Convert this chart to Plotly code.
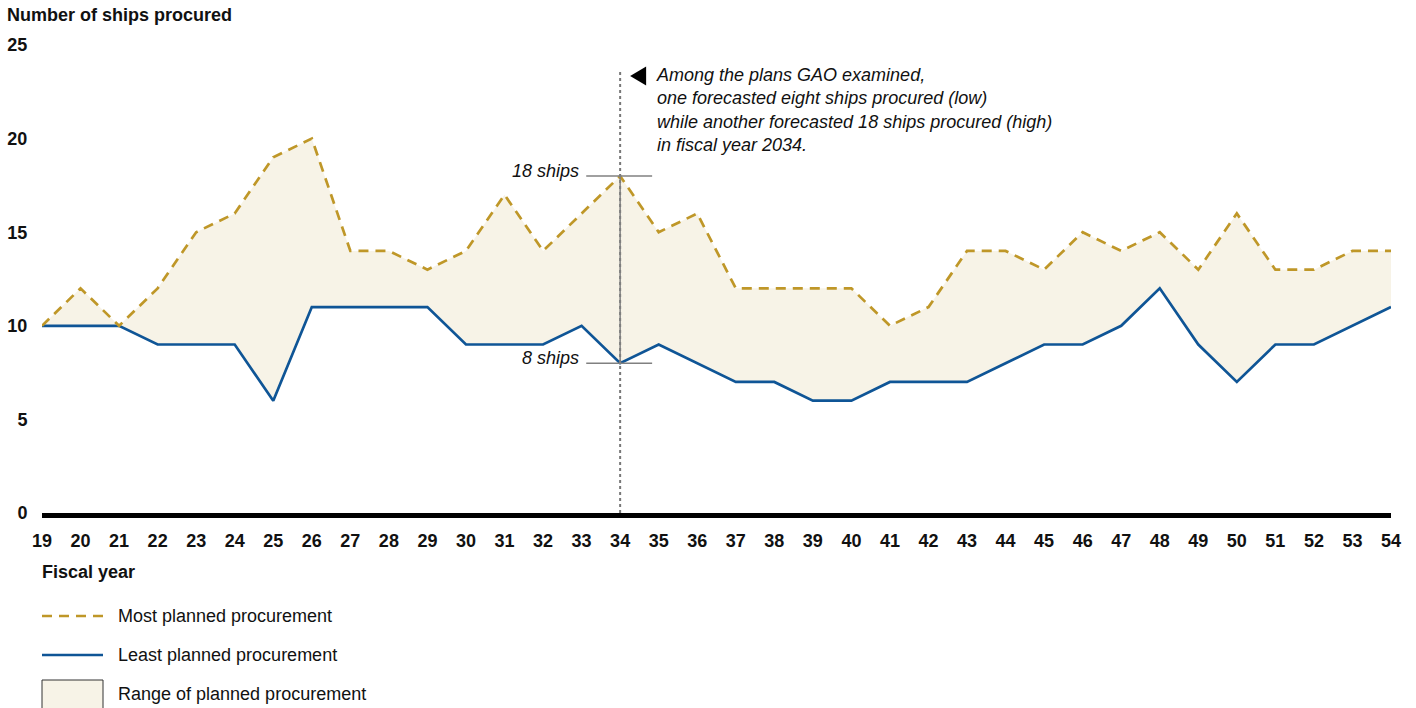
import plotly.graph_objects as go

years = list(range(19, 55))
year_labels = [str(y) for y in years]
most_planned = [10, 12, 10, 12, 15, 16, 19, 20, 14, 14, 13, 14, 17, 14, 16, 18, 15, 16,
                12, 12, 12, 12, 10, 11, 14, 14, 13, 15, 14, 15, 13, 16, 13, 13, 14, 14]
least_planned = [10, 10, 10, 9, 9, 9, 6, 11, 11, 11, 11, 9, 9, 9, 10, 8, 9, 8,
                 7, 7, 6, 6, 7, 7, 7, 8, 9, 9, 10, 12, 9, 7, 9, 9, 10, 11]
y_ticks = [0, 5, 10, 15, 20, 25]
highlight_year = 34
low_value = 8
high_value = 18

GOLD = "#BF9728"
BLUE = "#0F5596"
FILL = "#F7F3E7"
FONT = "Liberation Sans, Arial, sans-serif"
DASH = "10px,7px"

fig = go.Figure()
fig.add_trace(go.Scatter(x=years, y=least_planned, mode="lines", line=dict(width=0, color=FILL),
                         showlegend=False, hoverinfo="skip"))
fig.add_trace(go.Scatter(x=years, y=most_planned, mode="lines", line=dict(width=0, color=FILL),
                         fill="tonexty", fillcolor=FILL, showlegend=False, hoverinfo="skip"))
fig.add_trace(go.Scatter(x=years, y=least_planned, mode="lines", line=dict(width=2.7, color=BLUE),
                         showlegend=False, name="Least planned procurement"))
fig.add_trace(go.Scatter(x=years, y=most_planned, mode="lines",
                         line=dict(width=2.7, color=GOLD, dash=DASH),
                         showlegend=False, name="Most planned procurement"))

shapes = []
annotations = []

# vertical dotted reference line
shapes.append(dict(type="line", xref="x", yref="y", x0=highlight_year, x1=highlight_year,
                   y0=0, y1=23.66, line=dict(color="#777777", width=2, dash="dot"), layer="above"))
# range bar
shapes.append(dict(type="line", xref="x", yref="y", x0=highlight_year, x1=highlight_year,
                   y0=low_value, y1=high_value, line=dict(color="#808080", width=1.5), layer="above"))
for v in (low_value, high_value):
    shapes.append(dict(type="line", xref="x", yref="y", x0=highlight_year - 0.88,
                       x1=highlight_year + 0.83, y0=v, y1=v,
                       line=dict(color="#808080", width=1.5), layer="above"))
    annotations.append(dict(x=highlight_year - 0.88, y=v, xref="x", yref="y", xanchor="right",
                            yanchor="middle", xshift=-5, yshift=5, showarrow=False,
                            text=f"<i>{v} ships</i>", font=dict(size=18, color="#111111", family=FONT)))
# triangle pointer
shapes.append(dict(type="path", xref="x", yref="y", xsizemode="pixel", ysizemode="pixel",
                   xanchor=highlight_year, yanchor=23.34,
                   path="M 10,0 L 26,9.5 L 26,-9.5 Z", fillcolor="#000000",
                   line=dict(width=0), layer="above"))
annotations.append(dict(x=highlight_year, y=23.34, xref="x", yref="y", xanchor="left", yanchor="top",
                        xshift=34, yshift=13, showarrow=False, align="left",
                        text="<i>Among the plans GAO examined,<br>one forecasted eight ships procured (low)"
                             "<br>while another forecasted 18 ships procured (high)<br>in fiscal year 2034.</i>",
                        font=dict(size=18, color="#111111", family=FONT)))

# titles
annotations.append(dict(x=-0.0259, y=1.064, xref="paper", yref="paper", xanchor="left", yanchor="middle",
                        xshift=-2, showarrow=False, text="<b>Number of ships procured</b>",
                        font=dict(size=18, color="#111111", family=FONT)))
annotations.append(dict(x=0, y=(513 - 572) / 468, xref="paper", yref="paper", xanchor="left",
                        yanchor="middle", xshift=-2, showarrow=False, text="<b>Fiscal year</b>",
                        font=dict(size=18, color="#111111", family=FONT)))


def py(ypx):
    return (513 - ypx) / 468


x_end = (103 - 42) / 1349
x_text = (118 - 42) / 1349
shapes.append(dict(type="line", xref="paper", yref="paper", x0=0, x1=x_end, y0=py(616), y1=py(616),
                   line=dict(color=GOLD, width=2.7, dash=DASH)))
shapes.append(dict(type="line", xref="paper", yref="paper", x0=0, x1=x_end, y0=py(655), y1=py(655),
                   line=dict(color=BLUE, width=2.7)))
shapes.append(dict(type="rect", xref="paper", yref="paper", x0=0, x1=x_end, y0=py(680), y1=py(720),
                   fillcolor=FILL, line=dict(color="#333333", width=1)))
for label, ypx in (("Most planned procurement", 616), ("Least planned procurement", 655),
                   ("Range of planned procurement", 694)):
    annotations.append(dict(x=x_text, y=py(ypx), xref="paper", yref="paper", xanchor="left",
                            yanchor="middle", xshift=-2, showarrow=False, text=label,
                            font=dict(size=18, color="#111111", family=FONT)))

fig.update_layout(
    width=1416, height=708,
    margin=dict(l=42, r=25, t=45, b=195, autoexpand=False),
    paper_bgcolor="white", plot_bgcolor="white",
    font=dict(family=FONT, color="#111111"),
    shapes=shapes, annotations=annotations,
    showlegend=False,
    xaxis=dict(range=[19, 54], tickmode="array", tickvals=years, ticktext=[f"<b>{t}</b>" for t in year_labels],
               showgrid=False, zeroline=False, showline=True, linecolor="#000000", linewidth=5,
               ticks="outside", ticklen=7, tickcolor="rgba(0,0,0,0)", automargin=False,
               tickfont=dict(size=18, color="#111111", family=FONT)),
    yaxis=dict(range=[0, 25], tickmode="array", tickvals=y_ticks,
               ticktext=[f"<b>{v}</b>" for v in y_ticks],
               showgrid=False, zeroline=False, showline=False, automargin=False,
               ticks="outside", ticklen=10, tickcolor="rgba(0,0,0,0)",
               tickfont=dict(size=18, color="#111111", family=FONT)),
)

fig.write_html("out.html", config={"displayModeBar": False},
               post_script="document.body.style.margin='0';")
